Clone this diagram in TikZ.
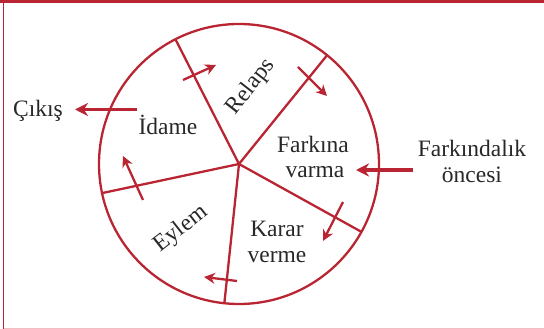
\documentclass[tikz,border=0pt]{standalone}
\usepackage{fontspec}
\setmainfont{Liberation Serif}
\usetikzlibrary{arrows.meta,calc}
\definecolor{cred}{RGB}{185,37,50}
\definecolor{cpink}{RGB}{240,190,195}
\definecolor{ctext}{RGB}{40,40,40}
\begin{document}
\begin{tikzpicture}[x=1pt,y=1pt,
  lbl/.style={text=ctext,font=\fontsize{23.5}{25}\selectfont,inner sep=0pt},
  rim/.style={draw=cred,line width=2.3pt},
  flow/.style={draw=cred,line width=2.3pt,-{Stealth[length=11pt,width=11pt]}},
  bigflow/.style={draw=cred,line width=3.2pt,-{Stealth[length=13pt,width=13pt]}}]
\useasboundingbox (0,0) rectangle (544,329);
% frame
\fill[cred] (0,326) rectangle (544,329);
\draw[cred,line width=1pt] (3.5,0) -- (3.5,326);
\draw[cpink,line width=1pt] (3.5,0.8) -- (544,0.8);
% wheel
\coordinate (c) at (239,165);
\draw[rim] (c) circle[radius=140];
\coordinate (s1) at ($(c)+(117:140)$);
\coordinate (s2) at ($(c)+(51:140)$);
\coordinate (s3) at ($(c)+(-29:140)$);
\coordinate (s4) at ($(c)+(-96:140)$);
\coordinate (s5) at ($(c)+(192:140)$);
\foreach \s in {s1,s2,s3,s4,s5} \draw[rim] (c) -- (\s);
% small arrows
\coordinate (a1s) at (183,249); \coordinate (a1e) at (216,264);
\coordinate (a2s) at (298,262); \coordinate (a2e) at (327,233);
\coordinate (a3s) at (343,127); \coordinate (a3e) at (323,88);
\coordinate (a4s) at (237,48);  \coordinate (a4e) at (204,52);
\coordinate (a5s) at (143,129); \coordinate (a5e) at (123,173);
\draw[flow] (a1s) -- (a1e);
\draw[flow] (a2s) -- (a2e);
\draw[flow] (a3s) -- (a3e);
\draw[flow] (a4s) -- (a4e);
\draw[flow] (a5s) -- (a5e);
% labels
\node[lbl,anchor=base] (cikis) at (38,212) {Çıkış};
\node[lbl,anchor=base] (idame) at (168,194) {İdame};
\node[lbl,rotate=52] (relaps) at (251,242) {Relaps};
\node[lbl,anchor=base] (fark1) at (313,176) {Farkına};
\node[lbl,anchor=base] (fark2) at (315,151) {varma};
\node[lbl,anchor=base] (once1) at (472,172) {Farkındalık};
\node[lbl,anchor=base] (once2) at (472,146) {öncesi};
\node[lbl,anchor=base] (karar1) at (277,92) {Karar};
\node[lbl,anchor=base] (karar2) at (277,66) {verme};
\node[lbl,rotate=38] (eylem) at (181,100) {Eylem};
% outer arrows
\coordinate (o1s) at (137,219.5); \coordinate (o1e) at (75,219.5);
\coordinate (o2s) at (413,159); \coordinate (o2e) at (356,159);
\draw[bigflow] (o1s) -- (o1e);
\draw[bigflow] (o2s) -- (o2e);
\end{tikzpicture}
\end{document}
